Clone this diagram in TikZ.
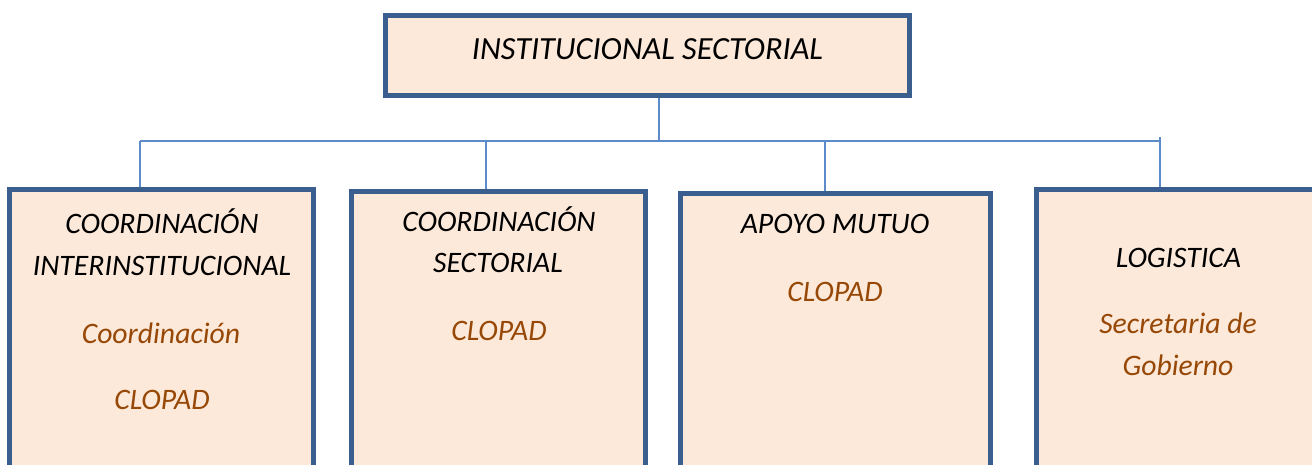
\documentclass[tikz,border=0pt]{standalone}
\usepackage{fontspec}
\setmainfont{Carlito}

\definecolor{boxline}{HTML}{3A5F8F}
\definecolor{boxfill}{HTML}{FCE9DA}
\definecolor{linkline}{HTML}{5B8BC9}
\definecolor{unitbrown}{HTML}{974806}

\tikzset{
  unitbox/.style={rectangle, draw=boxline, fill=boxfill, line width=5pt, anchor=north west, inner sep=0pt},
  head/.style={anchor=base, inner sep=0pt, font=\fontsize{29.7}{36}\selectfont\itshape},
  sub/.style={head, text=unitbrown},
  link/.style={draw=linkline, line width=1.6pt},
}

\begin{document}
\begin{tikzpicture}[x=1pt, y=-1pt]
    \useasboundingbox (0,0) rectangle (1312,464);
    \clip (0,0) rectangle (1312,464);

    % boxes
    \node[unitbox, minimum width=524pt, minimum height=80pt] (top) at (383,13) {};
    \node[unitbox, minimum width=304pt, minimum height=340pt] (coord) at (7,187) {};
    \node[unitbox, minimum width=294pt, minimum height=340pt] (sector) at (349,189) {};
    \node[unitbox, minimum width=310pt, minimum height=340pt] (apoyo) at (678,191) {};
    \node[unitbox, minimum width=310pt, minimum height=340pt] (logis) at (1034,187) {};

    % connectors
    \coordinate (hub) at (659,141);
    \coordinate (busL) at (140,141);
    \coordinate (busR) at (1160,141);
    \coordinate (dropA) at (140,141);
    \coordinate (dropB) at (486,141);
    \coordinate (dropC) at (825,141);
    \coordinate (dropD) at (1160,137);
    \draw[link] (hub |- top.south) -- (hub);
    \draw[link] (busL) -- (busR);
    \draw[link] (dropA) -- (dropA |- coord.north);
    \draw[link] (dropB) -- (dropB |- sector.north);
    \draw[link] (dropC) -- (dropC |- apoyo.north);
    \draw[link] (dropD) -- (dropD |- logis.north);

    % texts
    \node[head, font=\fontsize{32.3}{38}\selectfont\itshape] (topT) at (647.5,59) {INSTITUCIONAL SECTORIAL};

    \node[head] (coordA) at (162,233) {COORDINACIÓN};
    \node[head] (coordB) at (162,275) {INTERINSTITUCIONAL};
    \node[sub] (coordC) at (161,343) {Coordinación};
    \node[sub] (coordD) at (162,409) {CLOPAD};

    \node[head] (sectorA) at (499,231) {COORDINACIÓN};
    \node[head] (sectorB) at (498,272) {SECTORIAL};
    \node[sub] (sectorC) at (499,340) {CLOPAD};

    \node[head] (apoyoA) at (835,233) {APOYO MUTUO};
    \node[sub] (apoyoB) at (835,301) {CLOPAD};

    \node[head] (logisA) at (1178.5,267) {LOGISTICA};
    \node[sub] (logisB) at (1178,333) {Secretaria de};
    \node[sub] (logisC) at (1178,375) {Gobierno};
\end{tikzpicture}
\end{document}
